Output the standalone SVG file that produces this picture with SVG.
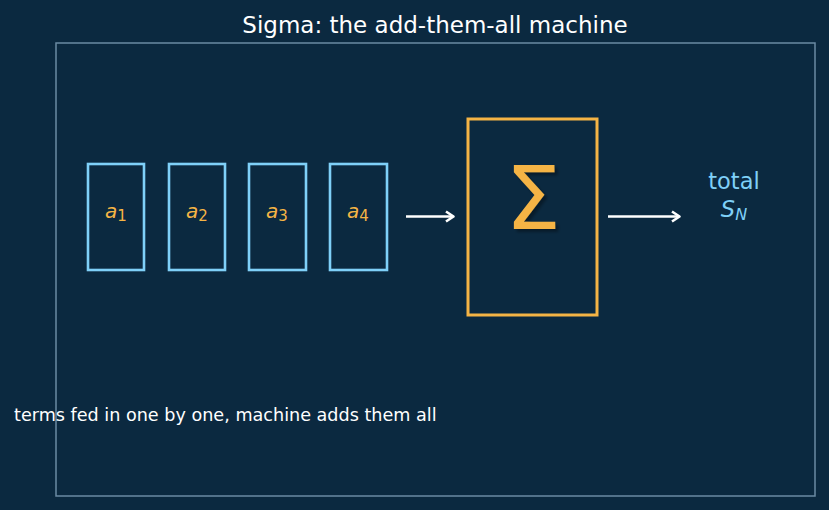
<svg xmlns="http://www.w3.org/2000/svg" width="829" height="510" viewBox="0 0 829 510">
<style>
.term{fill:none;stroke:#7fd0f8;stroke-width:2.6}
.lab{font-family:"DejaVu Sans",sans-serif;font-size:20px;fill:#f5b445;text-anchor:middle}
.sub{font-size:15px}
.conn{stroke:#ffffff;stroke-width:2.6;fill:none}
text{font-family:"DejaVu Sans",sans-serif}
</style>
<defs>
<filter id="sh" x="-30%" y="-30%" width="160%" height="160%"><feDropShadow dx="3" dy="3" stdDeviation="1.5" flood-color="#000000" flood-opacity="0.35"/></filter>
</defs>
<rect width="829" height="510" fill="#0b2940"/>
<rect x="56" y="43" width="759" height="453" fill="none" stroke="#6b8aa3" stroke-width="1.5"/>
<text x="435" y="33" font-size="23" fill="#ffffff" text-anchor="middle">Sigma: the add-them-all machine</text>
<g id="a1"><rect class="term" x="88" y="164" width="56" height="106"/><text class="lab" x="116" y="218"><tspan font-style="italic">a</tspan><tspan class="sub" dy="3">1</tspan></text></g>
<g id="a2"><rect class="term" x="169" y="164" width="56" height="106"/><text class="lab" x="197" y="218"><tspan font-style="italic">a</tspan><tspan class="sub" dy="3">2</tspan></text></g>
<g id="a3"><rect class="term" x="249" y="164" width="57" height="106"/><text class="lab" x="277" y="218"><tspan font-style="italic">a</tspan><tspan class="sub" dy="3">3</tspan></text></g>
<g id="a4"><rect class="term" x="330" y="164" width="57" height="106"/><text class="lab" x="358" y="218"><tspan font-style="italic">a</tspan><tspan class="sub" dy="3">4</tspan></text></g>
<g id="sigma">
<rect x="468" y="119" width="129" height="196" fill="none" stroke="#f5b445" stroke-width="3"/>
<text x="533" y="229" font-size="88" fill="#f5b445" text-anchor="middle" filter="url(#sh)">Σ</text>
</g>
<g id="total">
<text x="734" y="189" font-size="22.5" fill="#7fd0f8" text-anchor="middle">total</text>
<text x="734" y="217" font-size="22.5" fill="#7fd0f8" text-anchor="middle"><tspan font-style="italic">S</tspan><tspan font-size="16" font-style="italic" dy="3">N</tspan></text>
</g>
<g id="connectors">
<path class="conn" d="M406 216.5H453"/>
<path class="conn" d="M446 211.5L453.5 216.5L446 221.5" stroke-linejoin="round"/>
<path class="conn" d="M608 216.5H679"/>
<path class="conn" d="M672 211.5L679.5 216.5L672 221.5" stroke-linejoin="round"/>
</g>
<text x="14" y="421" font-size="17.6" fill="#ffffff">terms fed in one by one, machine adds them all</text>
</svg>
